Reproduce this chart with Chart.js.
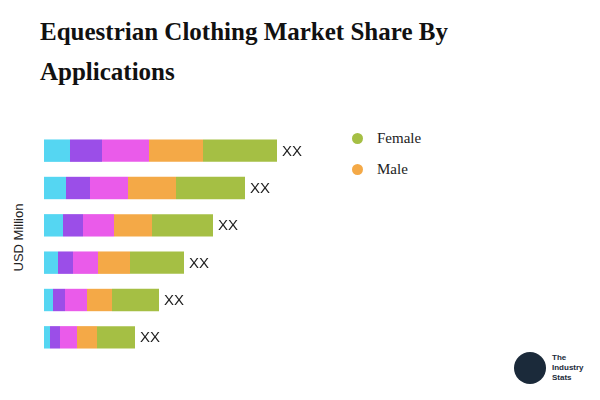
<!DOCTYPE html>
<html><head><meta charset="utf-8">
<script src="https://cdn.jsdelivr.net/npm/chart.js@4"></script>
<style>
body{margin:0;width:600px;height:400px;background:#fff;position:relative;overflow:hidden;font-family:'Liberation Sans',Arial,sans-serif}
h1{position:absolute;left:40px;top:12px;margin:0;font:bold 25px/40px 'Liberation Serif','Times New Roman',serif;color:#111}
#yt{position:absolute;left:-22px;top:230px;transform:rotate(-90deg);font-size:13px;color:#222;width:80px;text-align:center}
.lg{position:absolute;left:352px;font:15px 'Liberation Serif',serif;color:#222}
.lg span{display:inline-block;width:11px;height:11px;border-radius:50%;margin-right:14px;vertical-align:-1px}
#logo{position:absolute;left:514px;top:352px;font:bold 8px/10px 'Liberation Sans',sans-serif;color:#1b2a3a}
#logo i{display:inline-block;width:32px;height:32px;border-radius:50%;background:#1b2a3a;vertical-align:middle;margin-right:6px}
#logo div{display:inline-block;vertical-align:middle}
</style></head><body>
<h1>Equestrian Clothing Market Share By<br>Applications</h1>
<div id="yt">USD Million</div>
<div class="lg" style="top:130px"><span style="background:#a5bf44"></span>Female</div>
<div class="lg" style="top:161px"><span style="background:#f4a947"></span>Male</div>
<div id="logo"><i></i><div>The<br>Industry<br>Stats</div></div>
<canvas id="c" width="600" height="400" style="position:absolute;left:0;top:0"></canvas>
<script>
const categories = ['1', '2', '3', '4', '5', '6'];
const seriesA = [26, 22, 19, 14, 9, 6];
const seriesB = [32, 24, 20, 15, 12, 10];
const seriesC = [47, 38, 31, 25, 22, 17];
const male = [54, 48, 38, 32, 25, 20];
const female = [74, 69, 61, 54, 47, 38];
const barLabels = ['XX', 'XX', 'XX', 'XX', 'XX', 'XX'];

const COLORS = ['#55d6f2', '#9b4ee8', '#ea5bea', '#f4a947', '#a5bf44'];

const endLabels = {
  id: 'endLabels',
  afterDatasetsDraw(chart) {
    const ctx = chart.ctx;
    const last = chart.getDatasetMeta(chart.data.datasets.length - 1);
    ctx.save();
    ctx.font = '15px "Liberation Sans", Arial, sans-serif';
    ctx.fillStyle = '#222';
    ctx.textBaseline = 'middle';
    last.data.forEach((bar, i) => ctx.fillText(barLabels[i], bar.x + 5, bar.y + 1));
    ctx.restore();
  }
};

new Chart(document.getElementById('c'), {
  type: 'bar',
  data: {
    labels: categories,
    datasets: [seriesA, seriesB, seriesC, male, female].map((d, i) => ({
      data: d, backgroundColor: COLORS[i], barPercentage: 0.6, categoryPercentage: 1
    }))
  },
  options: {
    indexAxis: 'y',
    responsive: false,
    animation: false,
    layout: { padding: { left: 44, right: 296, top: 132, bottom: 44 } },
    plugins: { legend: { display: false }, tooltip: { enabled: false } },
    scales: {
      x: { stacked: true, min: 0, max: 260, display: false },
      y: { stacked: true, display: false }
    }
  },
  plugins: [endLabels]
});
</script>
</body></html>
